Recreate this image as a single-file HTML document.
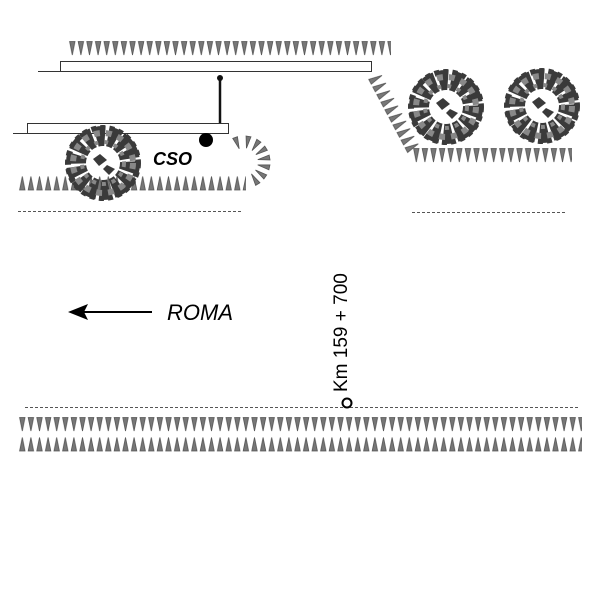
<!DOCTYPE html>
<html><head><meta charset="utf-8"><style>html,body{margin:0;padding:0;background:#fff}svg{display:block}</style></head>
<body>
<svg width="600" height="600" viewBox="0 0 600 600" xmlns="http://www.w3.org/2000/svg">
<defs>
<pattern id="dn" patternUnits="userSpaceOnUse" width="8.6" height="16">
<polygon points="1.6,0.5 7,0.5 4.3,14" fill="#777" stroke="#555" stroke-width="0.8"/>
</pattern>
<pattern id="up" patternUnits="userSpaceOnUse" width="8.6" height="16">
<polygon points="1.6,14 7,14 4.3,0.5" fill="#777" stroke="#555" stroke-width="0.8"/>
</pattern>
<g id="bush">
<circle r="27" fill="none" stroke="#3a3a3a" stroke-width="20" stroke-dasharray="9 3"/>
<circle r="35" fill="none" stroke="#3a3a3a" stroke-width="6" stroke-dasharray="5 4"/>
<circle r="30" fill="none" stroke="#888" stroke-width="6" stroke-dasharray="6 6"/>
<circle r="21" fill="none" stroke="#888" stroke-width="4" stroke-dasharray="4 6"/>
<circle r="14" fill="#fff"/>
<polygon points="-10,-4 -3,-9 4,-3 -4,3" fill="#3a3a3a"/>
<polygon points="4,2 12,6 6,12 0,6" fill="#3a3a3a"/>
</g>
</defs>

<g transform="translate(68,41)"><rect width="323" height="15" fill="url(#dn)"/></g>
<rect x="60.5" y="61.5" width="311" height="10" fill="none" stroke="#333" stroke-width="1"/>
<line x1="38" y1="71.5" x2="61" y2="71.5" stroke="#333"/>
<line x1="220" y1="78" x2="220" y2="123" stroke="#111" stroke-width="2.5"/>
<circle cx="220" cy="78" r="3" fill="#111"/>
<rect x="27.5" y="123.5" width="201" height="10" fill="none" stroke="#333" stroke-width="1"/>
<line x1="13" y1="133.5" x2="28" y2="133.5" stroke="#333"/>
<circle cx="206" cy="140" r="7" fill="#000"/>
<text x="153" y="165" font-family="Liberation Sans, sans-serif" font-size="18" font-weight="bold" font-style="italic" fill="#000">CSO</text>
<g transform="translate(18,176)"><rect width="228" height="15" fill="url(#up)"/></g>
<g fill="#777" stroke="#555" stroke-width="0.8">
<g transform="translate(244,162)">
<polygon points="-2.5,-26 2.5,-26 0,-14" transform="rotate(-20)"/>
<polygon points="-2.5,-26 2.5,-26 0,-14" transform="rotate(10)"/>
<polygon points="-2.5,-26 2.5,-26 0,-14" transform="rotate(35)"/>
<polygon points="-2.5,-26 2.5,-26 0,-14" transform="rotate(58)"/>
<polygon points="-2.5,-26 2.5,-26 0,-14" transform="rotate(80)"/>
<polygon points="-2.5,-26 2.5,-26 0,-14" transform="rotate(102)"/>
<polygon points="-2.5,-26 2.5,-26 0,-14" transform="rotate(125)"/>
<polygon points="-2.5,-26 2.5,-26 0,-14" transform="rotate(148)"/>
</g>
</g>
<line x1="18" y1="211.5" x2="242" y2="211.5" stroke="#555" stroke-dasharray="3 2"/>
<use href="#bush" x="103" y="163"/>

<g transform="translate(368,78) rotate(62) translate(0,-14)">
<rect width="86" height="15" fill="url(#up)"/>
</g>
<g transform="translate(412,148)"><rect width="160" height="15" fill="url(#dn)"/></g>
<use href="#bush" x="446" y="107"/>
<use href="#bush" x="542" y="106"/>
<line x1="412" y1="212.5" x2="567" y2="212.5" stroke="#555" stroke-dasharray="3 2"/>

<line x1="78" y1="312" x2="152" y2="312" stroke="#000" stroke-width="2"/>
<polygon points="68,312 88,304 84,312 88,320" fill="#000"/>
<text x="167" y="320" font-family="Liberation Sans, sans-serif" font-size="22" font-style="italic" fill="#000">ROMA</text>

<text transform="translate(347,392) rotate(-90)" font-family="Liberation Sans, sans-serif" font-size="19" fill="#000">Km 159 + 700</text>
<line x1="25" y1="407.5" x2="578" y2="407.5" stroke="#555" stroke-dasharray="3 2"/>
<circle cx="347" cy="403" r="4.5" fill="#fff" stroke="#000" stroke-width="2"/>

<g transform="translate(18,417)"><rect width="564" height="15" fill="url(#dn)"/></g>
<g transform="translate(18,437)"><rect width="564" height="15" fill="url(#up)"/></g>
</svg>
</body></html>
